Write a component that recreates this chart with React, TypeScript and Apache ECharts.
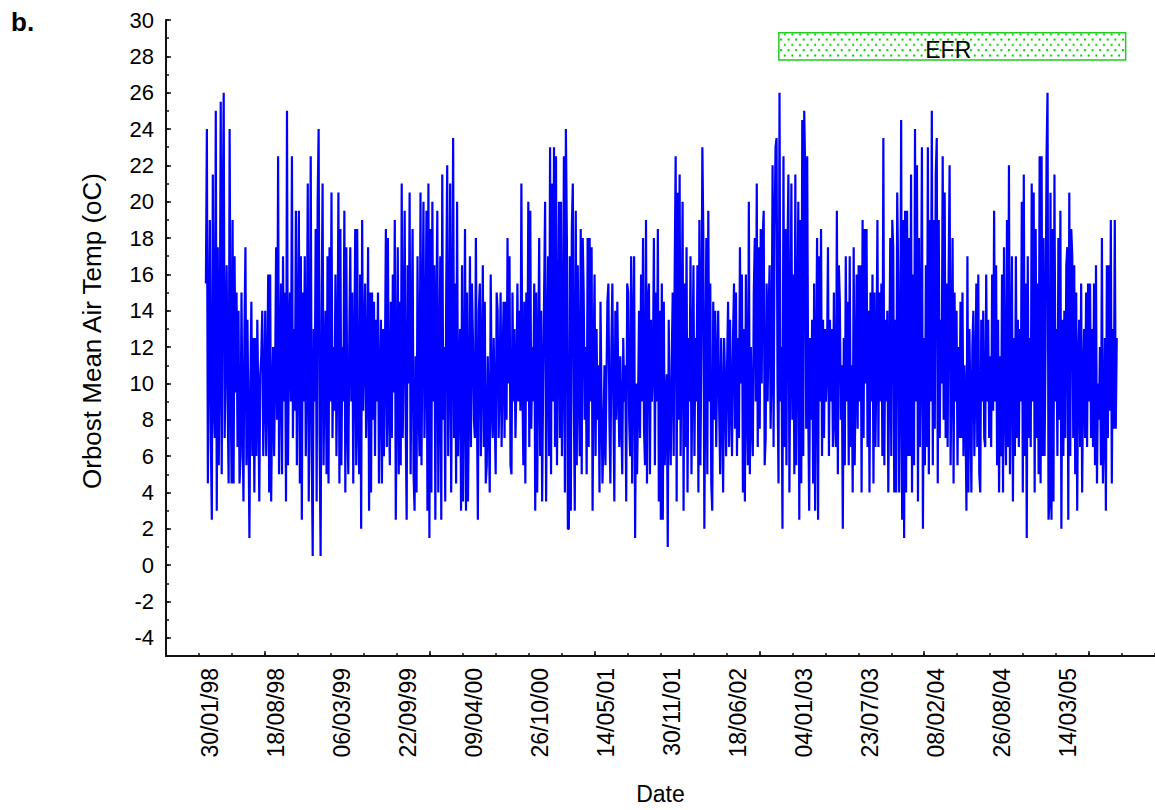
import React, { useEffect, useRef } from "react";
import * as echarts from "echarts";

// Daily series sampled every 3 days, starting date below
const SERIES_START = "1998-02-20";
const STEP_DAYS = 3;
// Axis origin: first labelled tick date
const AXIS_ORIGIN = "1998-01-30";

const tempsA = [
  15.5,24,4.5,12,19,7,2.5,21.5,9,7,
  25,3,17.5,5.5,11,25.5,5,18.5,26,7,
  11.5,16.5,9,4.5,24,10,4.5,19,4.5,17,
  9.5,15,6.5,14,4.5,6,15,8,3.5,13,
  17.5,5.5,13.5,8,1.5,10,14.5,6,12.5,4,
  12.5,6,13.5,9,3.5,10.5,11.5,14,6,9.5,
  14,6,10,16,4,16,3.5,9,12,6,
  10.5,17.5,8,22.5,5,11,15.5,5,17,9,
  15,3.5,25,5.5,12,15,9,22.5,7,13,
  8.5,19.5,5.5,12,19.5,4.5,17,2.5,15,9,
  17,6,11,21,3.5,10,22.5,6.5,0.5,13,
  9,18.5,3.5,20,24,7,0.5,14,21,5.5,
  11,14,5,17,4.5,17.5,9,20.5,7,12,
  8.5,16,6,11,20.5,4.5,18.5,5.5,12,9,
  19.5,4,17.5,8,5,12.5,17.5,9,15,4.5,
  11,18.5,5.5,18.5,8,5,16,2,19,8.5,
  12,15.5,7,10,17.5,3,15,4,15,8,
  14.5,6,13.5,9,15,4.5,10,13.5,4.5,13,
  6,
];
const tempsB = [
  11,18.5,6.5,18,9,5.5,14.5,7,16,9.5,
  19,2.5,10,17.5,5,14.5,5.5,21,7,12,
  19.5,8,2.5,16.5,10,20.5,5,12,18.5,5,
  3,11.5,4,17,9,6,20.5,5.5,13,20,
  7,11,19.5,3,21,1.5,18.5,4,20,9,
  16.5,2.5,13.5,19.5,4,10,17,2.5,21.5,8,
  12,3.5,15,22,6,11,21,4,12,23.5,
  7,15.5,4.5,20,6,10,13,3,16.5,3.5,
  10,18.5,3,15,3.5,9,17,6.5,15.5,12.5,
  8,7,18,9,2.5,14,15.5,6,11,16.5,
  6.5,14.5,4.5,5.5,11.5,8,4,16,9,7,
  12.5,8.5,5,15,14,7,10,15,6.5,11,
  14.5,7,14.5,8,18,10,17,5.5,5,15,
  9,13,7,10,15.5,9,14,8.5,21,10,
  5.5,14.5,4.5,15,9,20,6.5,19.5,7.5,12,
  9,15.5,3,15,4,11,18,6,14,3.5,
  10,15,20,3.5,12,17,6,23,5,21,
  9,23,6.5,22.5,5.5,12,20,7,20,6,
  11,22.5,4,24,18,2,
];
const tempsC = [
  2,17,3,18.5,21,9,3,19.5,5.5,16.5,
  10,6,18.5,5,18,15,8,12,5,18,
  6.5,18,9,17.5,3,11,16,6,13,8,
  11,4,14.5,9,4.5,7,11,5.5,10,14.5,
  15.5,8,4.5,12,15.5,9,3.5,14,8,14.5,
  10,6.5,11.5,8,5,12.5,9,11,3.5,15.5,
  15,8,6,17,4.5,13,17,1.5,10,5,
  9,14,7,16,9,18,7.5,5.5,19,4.5,
  14.5,15.5,5,13.5,9,11,18,5.5,15,9,
  18.5,3.5,14,2.5,15.5,2.5,14.5,5.5,9,10.5,
  1,13.5,8,5.5,11,15,6,16,22.5,3.5,
  20.5,8,21.5,6,12,20,3,15.5,6.5,17.5,
  4,12.5,9,17,5,11,16.5,6,12.5,9,
  16.5,4,19,5.5,12,23,18,2,10,18,
  5,19.5,9,15.5,4.5,3,14.5,8,14,6.5,
  11,14,8.5,5,12.5,9,4,12.5,10,6,
  11,14.5,6.5,13.5,9,6,12.5,15.5,7.5,15,
  6,12.5,7,17.5,10,16,4,13,3.5,16,
  9,5.5,20,5,12,8,
];
const tempsD = [
  6,15,18,9,21,6.5,17.5,7.5,18.5,10,
  18,19.5,5.5,7,15.5,9,14,16.5,7.5,11,
  22,6.5,18.5,23,23.5,10,4.5,26,9,12,
  2,22.5,6.5,18.5,5.5,17,21.5,4,12,21,
  8,16,5,21.5,5.5,13,20,2.5,19,4.5,
  24.5,6,25,21.5,7.5,22.5,9,3,12.5,8,
  13.5,4.5,15.5,3,11,18,2.5,17,9,18.5,
  6,13.5,7,13,9,11,17.5,6,13.5,9,
  13,6.5,15,8,6.5,19.5,5,16.5,14.5,8,
  11,2,12.5,5.5,17,9,14.5,5.5,17,6.5,
  11,4,17.5,5.5,10,16,7.5,16.5,9,16.5,
  4,19,7,18.5,10,18.5,6.5,14,4,15,
  9,16,4.5,15,6.5,11,19,6.5,15,9,
  15.5,6,23.5,5.5,13.5,9,14,4,11,18,
  6,19,17.5,4,13.5,4,20.5,16,4,10,
  24.5,2.5,19,1.5,19.5,4,19.5,6,18,6,
  21.5,4,16,5.5,24,9,22,3.5,18,6.5,
  12,23,2,12.5,5.5,16.5,6.5,23,5,19,
  9,25,5.5,19,7.5,21.5,
];
const tempsE = [
  23.5,4.5,19,7,13.5,10,22.5,8,20.5,7,
  15.5,6.5,16,22,5.5,11,18,4.5,15,9,
  14,5.5,12,7,14.5,7,15,6,11,8.5,
  3,17,4,13,9,4,12,14,6,10,
  15.5,6.5,16,5,4,13.5,9,14,7,6.5,
  16,9,13.5,7,11.5,6.5,16,8.5,19.5,9,
  16.5,5.5,13.5,4,11.5,6,16,4,17.5,9,
  5.5,19,6.5,22,5,11,17,3.5,12.5,6,
  17,7,13.5,6.5,13,9,20,4,21.5,6,
  15.5,1.5,17,7,12.5,6.5,21,9,20.5,4,
  18.5,7,15.5,5,22.5,4.5,22.5,6,18,6,
  12,22.5,26,2.5,3.5,20.5,2.5,18.5,3.5,21.5,
  9,13,6,18,8,19.5,2,13.5,6,14,
  7,16.5,17.5,2.5,20.5,6,18.5,17,7,16.5,
  5,15,3,11,13.5,6.5,15.5,4,10,13,
  7,15,6.5,15.5,9,15.5,7,13,6.5,15.5,
  5.5,16.5,4.5,10,8,12,5.5,18,4.5,7.5,
  12.5,3,16.5,7,16.5,8.5,19,4.5,13,7.5,
  19,7.5,12.5,
];

const Y_MIN = -5;
const Y_MAX = 30;
const X_MIN_DAYS = -100;
const X_MAX_DAYS = 2900;
const X_TICK_DAYS = 100;
const LABEL_EVERY_DAYS = 200;
const LAST_LABEL_DAYS = 2600;
const MAJOR_TICK_FIRST = 200;
const MAJOR_TICK_EVERY = 500;

const EFR_LABEL = "EFR";
const EFR_PERIOD = ["2002-11-24", "2005-10-11"];
const EFR_RANGE = [27.8, 29.3];

const DAY_MS = 86400000;
const originMs = Date.parse(AXIS_ORIGIN + "T00:00:00Z");
const dayOf = (s: string) => Math.round((Date.parse(s + "T00:00:00Z") - originMs) / DAY_MS);
const pad = (n: number) => (n < 10 ? "0" + n : String(n));
const fmtDay = (d: number) => {
  const dt = new Date(originMs + d * DAY_MS);
  return pad(dt.getUTCDate()) + "/" + pad(dt.getUTCMonth() + 1) + "/" + pad(dt.getUTCFullYear() % 100);
};

const FONT = '"Liberation Sans", Arial, Helvetica, sans-serif';

export default function App() {
  const ref = useRef<HTMLDivElement>(null);
  useEffect(() => {
    if (!ref.current) return;
    const chart = echarts.init(ref.current, null, { renderer: "svg" });
    const temps = [...tempsA, ...tempsB, ...tempsC, ...tempsD, ...tempsE];
    const start = dayOf(SERIES_START);
    const data = temps.map((v, i) => [start + i * STEP_DAYS, v]);

    const xCats: string[] = [];
    for (let d = X_MIN_DAYS; d <= X_MAX_DAYS; d += X_TICK_DAYS) xCats.push(String(d));
    const yCats: string[] = [];
    for (let v = Y_MIN; v <= Y_MAX; v += 1) yCats.push(String(v));

    const tile =
      '<svg xmlns="http://www.w3.org/2000/svg" width="7.6" height="10.6" viewBox="0 0 7.6 10.6">' +
      '<rect width="7.6" height="10.6" fill="#ffffff"/>' +
      '<rect x="1" y="1.5" width="2" height="2" fill="#00cc00"/>' +
      '<rect x="4.8" y="6.8" width="2" height="2" fill="#00cc00"/></svg>';
    const tileUrl = "data:image/svg+xml;charset=utf-8," + encodeURIComponent(tile);

    const axisLineStyle = { color: "#111", width: 2 };
    const tickStyle = { color: "#111", width: 1.5 };

    chart.setOption({
      animation: false,
      backgroundColor: "#ffffff",
      textStyle: { fontFamily: FONT },
      grid: { left: 166, right: -5, top: 20, bottom: 147, containLabel: false },
      xAxis: [
        {
          type: "value",
          min: X_MIN_DAYS,
          max: X_MAX_DAYS,
          interval: X_TICK_DAYS,
          position: "bottom",
          name: "Date",
          nameLocation: "middle",
          nameGap: 126,
          nameTextStyle: { fontSize: 23, color: "#000", fontFamily: FONT },
          axisLine: { show: true, onZero: false, lineStyle: axisLineStyle },
          axisTick: { show: true, inside: true, length: 3, lineStyle: tickStyle },
          axisLabel: {
            show: true,
            rotate: 90,
            margin: 12,
            fontSize: 23,
            color: "#000",
            fontFamily: FONT,
            verticalAlign: "top",
            hideOverlap: false,
            showMinLabel: true,
            showMaxLabel: true,
            formatter: (v: number) =>
              v >= 0 && v <= LAST_LABEL_DAYS && v % LABEL_EVERY_DAYS === 0 ? fmtDay(v) : "",
          },
          splitLine: { show: false },
        },
        {
          type: "category",
          data: xCats,
          boundaryGap: false,
          position: "bottom",
          axisLine: { show: false, onZero: false },
          axisTick: {
            show: true,
            inside: true,
            length: 5,
            lineStyle: tickStyle,
            interval: (_i: number, v: string) => (Number(v) - MAJOR_TICK_FIRST) % MAJOR_TICK_EVERY === 0,
          },
          axisLabel: { show: false },
          splitLine: { show: false },
        },
      ],
      yAxis: [
        {
          type: "value",
          min: Y_MIN,
          max: Y_MAX,
          interval: 1,
          position: "left",
          name: "Orbost Mean Air Temp (oC)",
          nameLocation: "middle",
          nameGap: 61,
          nameTextStyle: { fontSize: 26, color: "#000", fontFamily: FONT, padding: [0, 0, 0, 14] },
          axisLine: { show: true, onZero: false, lineStyle: axisLineStyle },
          axisTick: { show: true, inside: true, length: 3, lineStyle: tickStyle },
          axisLabel: {
            show: true,
            margin: 12,
            fontSize: 22,
            color: "#000",
            fontFamily: FONT,
            formatter: (v: number) => (Math.round(v) % 2 === 0 ? String(v) : ""),
          },
          splitLine: { show: false },
        },
        {
          type: "category",
          data: yCats,
          boundaryGap: false,
          position: "left",
          axisLine: { show: false, onZero: false },
          axisTick: {
            show: true,
            inside: true,
            length: 5,
            lineStyle: tickStyle,
            interval: (_i: number, v: string) => Number(v) % 2 === 0,
          },
          axisLabel: { show: false },
          splitLine: { show: false },
        },
      ],
      series: [
        {
          type: "line",
          xAxisIndex: 0,
          yAxisIndex: 0,
          data,
          showSymbol: false,
          symbol: "none",
          lineStyle: { color: "#0000ff", width: 2.2 },
          itemStyle: { color: "#0000ff" },
          markArea: {
            silent: true,
            itemStyle: {
              color: { image: tileUrl, repeat: "repeat", imageWidth: 7.6, imageHeight: 10.6 },
              borderColor: "#22cc22",
              borderWidth: 1.5,
            },
            label: {
              show: true,
              position: "inside",
              color: "#000",
              fontSize: 23,
              fontFamily: FONT,
              offset: [-4, 4],
              formatter: "{b}",
            },
            data: [
              [
                { name: EFR_LABEL, coord: [dayOf(EFR_PERIOD[0]), EFR_RANGE[0]] },
                { coord: [dayOf(EFR_PERIOD[1]), EFR_RANGE[1]] },
              ],
            ],
          },
        },
      ],
      graphic: [
        {
          type: "text",
          left: 11,
          top: 9,
          style: { text: "b.", fill: "#000", font: "bold 26px " + FONT },
        },
      ],
    });
    return () => chart.dispose();
  }, []);

  return (
    <div
      ref={ref}
      style={{ position: "absolute", left: 0, top: 0, width: 1155, height: 810, background: "#fff" }}
    />
  );
}
